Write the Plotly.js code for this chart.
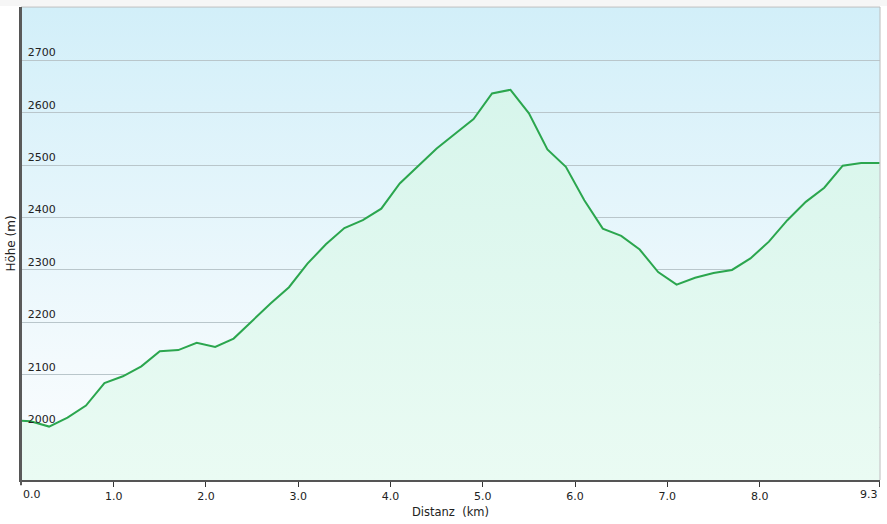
<!DOCTYPE html>
<html>
<head>
<meta charset="utf-8">
<script src="https://cdn.plot.ly/plotly-3.0.1.min.js"></script>
<style>
  html, body { margin: 0; padding: 0; background: #ffffff; }
  #chart { width: 887px; height: 524px; }
</style>
</head>
<body>
<div id="chart"></div>
<script>
// Distance along the route (km)
const distanceKm = [0, 0.1, 0.3, 0.5, 0.7, 0.9, 1.1, 1.3, 1.5, 1.7, 1.9, 2.1, 2.3, 2.5, 2.7, 2.9,
  3.1, 3.3, 3.5, 3.7, 3.9, 4.1, 4.3, 4.5, 4.7, 4.9, 5.1, 5.3, 5.5, 5.7, 5.9, 6.1, 6.3, 6.5,
  6.7, 6.9, 7.1, 7.3, 7.5, 7.7, 7.9, 8.1, 8.3, 8.5, 8.7, 8.9, 9.1, 9.3];
// Elevation (m)
const elevationM = [2012, 2011, 2001, 2018, 2041, 2084, 2097, 2116, 2145, 2147, 2161, 2153, 2169, 2203, 2236, 2267,
  2312, 2349, 2380, 2395, 2417, 2465, 2498, 2532, 2560, 2588, 2637, 2644, 2599, 2530, 2497, 2433, 2379, 2365,
  2339, 2296, 2272, 2285, 2294, 2300, 2322, 2354, 2395, 2430, 2457, 2499, 2504, 2504];

const xTickVals = [0, 1, 2, 3, 4, 5, 6, 7, 8, 9.3];
const xTickText = ["0.0", "1.0", "2.0", "3.0", "4.0", "5.0", "6.0", "7.0", "8.0", "9.3"];
const yTickVals = [2000, 2100, 2200, 2300, 2400, 2500, 2600, 2700];
const yTickText = ["2000", "2100", "2200", "2300", "2400", "2500", "2600", "2700"];

const FONT = "DejaVu Sans, Verdana, sans-serif";
const tickFont = { family: FONT, size: 11, color: '#222222' };

// the end labels are aligned to the plot edges, as in the original
const lastIdx = xTickVals.length - 1;
const axisTickText = xTickText.map((t, i) => (i === 0 || i === lastIdx) ? '' : t);
const endLabels = [
  { x: xTickVals[0], y: 0, xref: 'x', yref: 'paper', text: xTickText[0], showarrow: false,
    xanchor: 'left', yanchor: 'top', yshift: -6, font: tickFont },
  { x: xTickVals[lastIdx], y: 0, xref: 'x', yref: 'paper', text: xTickText[lastIdx], showarrow: false,
    xanchor: 'right', yanchor: 'top', yshift: -6, font: tickFont }
];

const bgSvg = '<svg xmlns="http://www.w3.org/2000/svg" width="100" height="100" preserveAspectRatio="none">' +
  '<defs><linearGradient id="g" x1="0" y1="0" x2="0" y2="1">' +
  '<stop offset="0" stop-color="#d2eff9"/><stop offset="0.75" stop-color="#f3fafd"/><stop offset="1" stop-color="#fbfdff"/>' +
  '</linearGradient></defs><rect width="100" height="100" fill="url(#g)"/></svg>';

const trace = {
  x: distanceKm,
  y: elevationM,
  type: 'scatter',
  mode: 'lines',
  line: { color: '#2ba64e', width: 2 },
  fill: 'tozeroy',
  fillgradient: {
    type: 'vertical',
    start: 1899,
    stop: 2802,
    colorscale: [[0, '#eafbf3'], [1, '#d3f4ea']]
  },
  hoverinfo: 'x+y'
};

const layout = {
  width: 887,
  height: 524,
  margin: { l: 21, r: 7, t: 7, b: 44 },
  paper_bgcolor: '#ffffff',
  plot_bgcolor: 'rgba(0,0,0,0)',
  showlegend: false,
  font: { family: FONT, size: 11, color: '#222222' },
  images: [{
    source: 'data:image/svg+xml;charset=utf-8,' + encodeURIComponent(bgSvg),
    xref: 'x domain', yref: 'y domain',
    x: 0, y: 1, sizex: 1, sizey: 1,
    xanchor: 'left', yanchor: 'top',
    sizing: 'stretch', layer: 'below'
  }],
  annotations: endLabels,
  shapes: [
    { type: 'line', xref: 'paper', yref: 'paper', x0: 0, x1: 1, y0: 1, y1: 1,
      line: { color: '#bcbcbc', width: 1 }, layer: 'above' },
    { type: 'line', xref: 'paper', yref: 'paper', x0: 1, x1: 1, y0: 0, y1: 1,
      line: { color: '#bcbcbc', width: 1 }, layer: 'above' },
    { type: 'line', xref: 'paper', yref: 'paper', x0: 0, x1: 0, y0: -0.011, y1: 1,
      line: { color: '#5a5a5a', width: 2 }, layer: 'above' },
    { type: 'rect', xref: 'paper', yref: 'paper', x0: -0.025, x1: 1.009, y0: 1.002, y1: 1.02,
      line: { width: 0 }, fillcolor: '#f6f6f6', layer: 'below' }
  ],
  xaxis: {
    range: [-0.004, 9.304],
    tickvals: xTickVals,
    ticktext: axisTickText,
    ticks: 'outside',
    ticklen: 5,
    tickwidth: 1,
    tickcolor: '#333333',
    ticklabeloverflow: 'allow',
    showgrid: false,
    zeroline: false,
    showline: true,
    linecolor: '#555555',
    linewidth: 2,
    tickfont: tickFont,
    title: { text: 'Distanz\u00a0\u00a0(km)', font: { family: FONT, size: 11.5, color: '#222222' }, standoff: 6 },
    automargin: false,
    fixedrange: true
  },
  yaxis: {
    range: [1899, 2802],
    tickvals: yTickVals,
    ticktext: yTickText,
    ticks: '',
    ticklabelposition: 'inside',
    ticklabelshift: -8,
    ticklabelstandoff: 6,
    showgrid: true,
    gridcolor: '#b9c6cb',
    gridwidth: 1,
    zeroline: false,
    showline: true,
    linecolor: '#555555',
    linewidth: 2,
    tickfont: tickFont,
    title: { text: 'Höhe (m)', font: { family: FONT, size: 12, color: '#222222' }, standoff: 10 },
    automargin: false,
    fixedrange: true
  }
};

Plotly.newPlot('chart', [trace], layout, { displayModeBar: false, staticPlot: true });
</script>
</body>
</html>
